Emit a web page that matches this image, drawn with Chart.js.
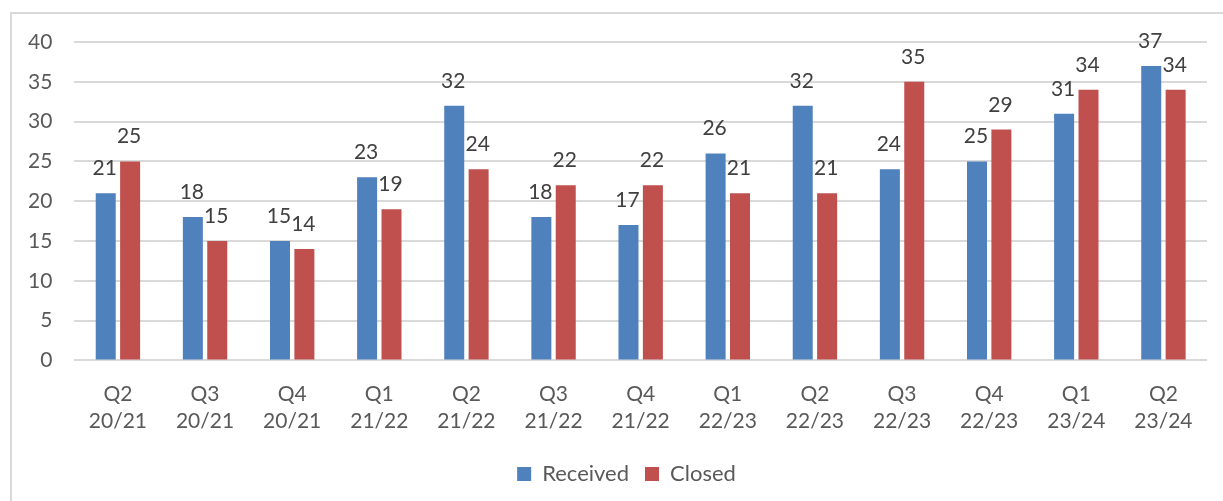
<!DOCTYPE html>
<html>
<head>
<meta charset="utf-8">
<script src="https://cdn.jsdelivr.net/npm/chart.js@4"></script>
<style>
  html, body { margin: 0; padding: 0; background: #fff; }
  #wrap { width: 1223px; height: 501px; }
</style>
</head>
<body>
<div id="wrap"><canvas id="chart" width="1223" height="501"></canvas></div>
<script>
// categories and values
const quarters = [
  ["Q2", "20/21"], ["Q3", "20/21"], ["Q4", "20/21"],
  ["Q1", "21/22"], ["Q2", "21/22"], ["Q3", "21/22"], ["Q4", "21/22"],
  ["Q1", "22/23"], ["Q2", "22/23"], ["Q3", "22/23"], ["Q4", "22/23"],
  ["Q1", "23/24"], ["Q2", "23/24"]
];
const received = [21, 18, 15, 23, 32, 18, 17, 26, 32, 24, 25, 31, 37];
const closed = [25, 15, 14, 19, 24, 22, 22, 21, 21, 35, 29, 34, 34];

const fontName = "Lato, 'Liberation Sans', sans-serif";

// frame around the chart, like the Excel chart border
const frame = {
  id: "frame",
  beforeDraw(chart) {
    const ctx = chart.ctx;
    ctx.save();
    ctx.strokeStyle = "#d9d9d9";
    ctx.lineWidth = 2;
    ctx.strokeRect(11, 13, 1400, 700);
    ctx.restore();
  }
};

// the legend sits a bit right of centre in the original
const legendShift = {
  id: "legendShift",
  afterLayout(chart) {
    chart.legend.left += 20;
    chart.legend.right += 20;
  }
};

// value labels above each bar
const barLabels = {
  id: "barLabels",
  afterDatasetsDraw(chart) {
    const ctx = chart.ctx;
    ctx.save();
    ctx.font = "21px " + fontName;
    ctx.fillStyle = "#404040";
    ctx.textAlign = "center";
    ctx.textBaseline = "alphabetic";
    chart.data.datasets.forEach((ds, i) => {
      chart.getDatasetMeta(i).data.forEach((bar, j) => {
        ctx.fillText(ds.data[j], bar.x - 1, bar.y - 18);
      });
    });
    ctx.restore();
  }
};

new Chart(document.getElementById("chart"), {
  type: "bar",
  data: {
    labels: quarters,
    datasets: [
      {
        label: "Received",
        data: received,
        backgroundColor: "#4f81bd",
        categoryPercentage: 0.56,
        barPercentage: 0.82
      },
      {
        label: "Closed",
        data: closed,
        backgroundColor: "#c0504d",
        categoryPercentage: 0.56,
        barPercentage: 0.82
      }
    ]
  },
  options: {
    responsive: false,
    animation: false,
    layout: { padding: { left: 6, right: 16, top: 42, bottom: 6 } },
    plugins: {
      legend: {
        position: "bottom",
        labels: {
          boxWidth: 14,
          boxHeight: 14,
          padding: 16,
          color: "#595959",
          font: { family: fontName, size: 22 }
        }
      },
      tooltip: { enabled: false }
    },
    scales: {
      x: {
        grid: { display: false },
        border: { display: false },
        ticks: {
          color: "#595959",
          font: { family: fontName, size: 21, lineHeight: 1.3 },
          maxRotation: 0,
          padding: 12
        }
      },
      y: {
        min: 0,
        max: 40,
        ticks: {
          stepSize: 5,
          color: "#595959",
          font: { family: fontName, size: 21 },
          padding: 22
        },
        grid: { color: "#d9d9d9", lineWidth: 2, drawTicks: false },
        border: { display: false }
      }
    }
  },
  plugins: [frame, legendShift, barLabels]
});
</script>
</body>
</html>
